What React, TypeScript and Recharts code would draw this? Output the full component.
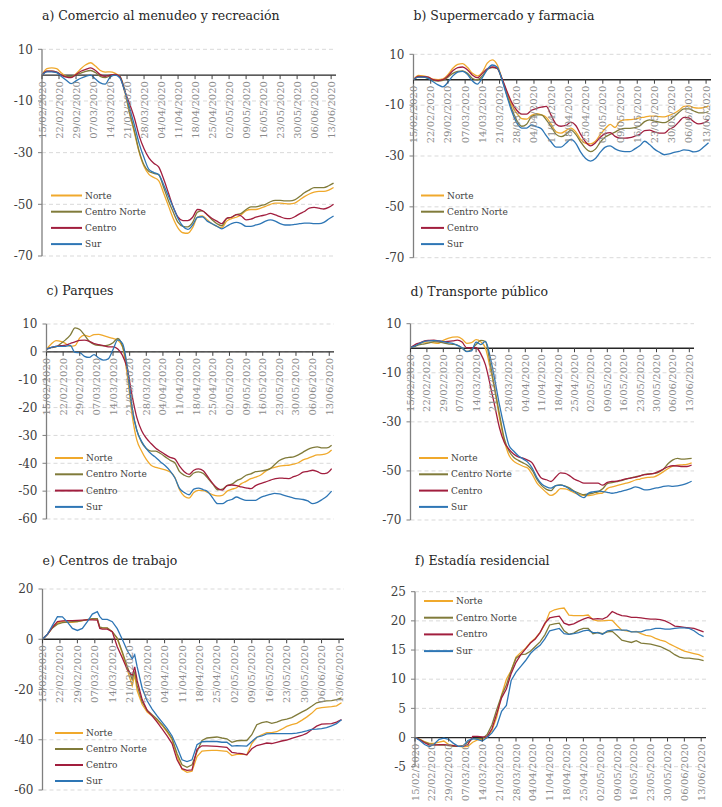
import React from 'react';
import { LineChart, Line, XAxis, YAxis, CartesianGrid, ReferenceLine } from 'recharts';

const FONT = '"DejaVu Serif", serif';

// one point every two days from 15/02/2020 (day 0)
const DAYS = Array.from({ length: 61 }, (_, i) => i * 2);
// panel e has two extra days where the series jump
const DAYS_E = [0, 2, 4, 6, 8, 10, 12, 14, 16, 18, 20, 22, 23, 24, 26, 28, 30, 32, 34, 36, 37, 38,
  40, 42, 44, 46, 48, 50, 52, 54, 56, 58, 60, 62, 64, 66, 68, 70, 72, 74, 76, 78,
  80, 82, 84, 86, 88, 90, 92, 94, 96, 98, 100, 102, 104, 106, 108, 110, 112, 114, 116, 118, 120];

const TICK_DAYS = [0, 7, 14, 21, 28, 35, 42, 49, 56, 63, 70, 77, 84, 91, 98, 105, 112, 119];
const TICK_LABELS = ['15/02/2020', '22/02/2020', '29/02/2020', '07/03/2020', '14/03/2020', '21/03/2020',
  '28/03/2020', '04/04/2020', '11/04/2020', '18/04/2020', '25/04/2020', '02/05/2020', '09/05/2020',
  '16/05/2020', '23/05/2020', '30/05/2020', '06/06/2020', '13/06/2020'];

// a) Comercio al menudeo y recreación
const A_NORTE = [0, 2.5, 2.8, 2.5, 0.8, -0.5, -0.8, 0.5, 2.5, 4,
  4.8, 3.5, 1.8, 1.2, 1.3, 0.8, -0.5, -6.2, -14.9, -22.2,
  -29.9, -35.4, -38.4, -39.6, -40.8, -45.5, -50.5, -55.5, -59.2, -61,
  -61.2, -59, -55, -54.5, -56, -57.5, -58.5, -59, -56.5, -55.5,
  -55, -54, -52.5, -52, -52, -51.5, -50.8, -50, -49.5, -49.5,
  -49.7, -49.8, -49.5, -48.3, -47, -46, -45.3, -45, -45, -44.5,
  -43.5];
const A_CN = [0, 1.5, 1.5, 1.2, 0, -0.5, -0.5, 0, 0.8, 1.5,
  1.8, 1, -0.5, -1, -0.3, 0, -0.5, -5.5, -14, -21.5,
  -29.5, -34.8, -37.3, -38, -38.5, -43.3, -48.5, -53, -57, -58.5,
  -58.7, -57, -53, -52.5, -54, -56, -57.5, -58.3, -55.5, -55,
  -54, -53.5, -52, -51, -51, -50.5, -50, -49, -48.5, -48.5,
  -48.7, -48.7, -48.3, -47, -45.5, -44.5, -43.5, -43.5, -43.5, -42.8,
  -41.8];
const A_CENTRO = [0, 1.5, 1.5, 1.2, 0, -0.8, -1, 0.2, 1.5, 2.2,
  2.8, 1.8, 0.2, -0.5, 0, 0.3, -0.5, -6, -11, -16.5,
  -23.5, -28.5, -32, -34.1, -35.5, -40, -45.5, -51, -55, -56.3,
  -56.3, -55, -52, -52.5, -54, -55.5, -56.5, -57.5, -55.4, -55,
  -54, -54.5, -56, -55.7, -55, -54.5, -54.1, -53.5, -54.1, -54.8,
  -55.4, -55.5, -54.8, -53.7, -52.8, -51.5, -51.2, -51.5, -51.8, -51.2,
  -50];
const A_SUR = [0, 1.3, 1.3, 1, -0.5, -2, -3.3, -2.2, -1.2, -0.5,
  0, -1.5, -3, -3.5, -0.8, 0, -1, -6, -12.5, -19.3,
  -26.5, -32, -36.5, -37.7, -38.5, -42.3, -46.8, -51.1, -55.5, -58.5,
  -59.7, -58, -55, -54.8, -56.5, -57.5, -58.5, -59.5, -58.5, -57.5,
  -57, -57.5, -58.5, -58.5, -58, -57.5, -56.5, -56, -56.5, -57.5,
  -58, -58, -57.8, -57.5, -57.3, -57.3, -57.5, -57.5, -57, -55.7,
  -54.5];

// b) Supermercado y farmacia
const B_NORTE = [0, 1.7, 1.5, 1, 0.2, 0, 0.3, 2, 4.5, 6,
  6.3, 4.8, 2.5, 1.5, 3, 6.5, 7.8, 6, 0.5, -5,
  -10, -13.2, -15.3, -15.5, -14, -13.3, -13.8, -14.8, -17.5, -20.5,
  -21, -20, -19, -20.5, -23.5, -25, -25.2, -24.2, -21.5, -19.2,
  -17.6, -18.8, -16.3, -15.8, -15.7, -15.5, -15, -14.7, -14.3, -14.3,
  -14.5, -14.6, -14, -13.2, -12, -10.5, -10.3, -11, -11.2, -11,
  -10.3];
const B_CN = [0, 1, 1, 0.5, -0.3, -0.5, -0.3, 1, 2.5, 3.3,
  3.5, 2.5, 0.5, 0, 1.5, 4, 4.8, 4.5, 0, -6,
  -11.5, -16, -18.3, -17.5, -14.5, -13.8, -13.8, -15.8, -18.5, -21.5,
  -22.4, -21.5, -19.8, -21.5, -24.5, -27, -28.3, -27.3, -24.5, -22.5,
  -21.5, -20.6, -19.5, -19.1, -19.1, -18.8, -18.2, -16.5, -15.8, -16.3,
  -16.7, -16.9, -16, -14.5, -12.8, -11.5, -11.5, -12.3, -13, -13,
  -12.5];
const B_CENTRO = [0, 1.3, 1.2, 1, 0, -0.3, 0, 1.5, 3.5, 4.8,
  5, 3.8, 1.8, 0.8, 2.5, 4.3, 5, 4.5, 0.5, -4.5,
  -9, -12, -13.5, -13.5, -12, -11.3, -10.8, -10.5, -14, -17.5,
  -18.3, -18, -16.7, -18, -21.5, -24.5, -26, -24.8, -22.6, -21.2,
  -20.8, -22.3, -23, -23, -22.8, -22.2, -21.5, -20, -19.8, -20.5,
  -21, -21, -19.5, -18.5, -16.5, -14.8, -15, -16.5, -17.4, -17,
  -15.8];
const B_SUR = [0, 1, 1, 0.5, -0.8, -2, -2.8, -1, 1.5, 3,
  3.3, 2, -0.5, -1.7, 0.8, 4, 5.8, 5, 0, -6.5,
  -12.5, -17, -19, -19, -17.8, -18.5, -19.3, -22, -24.5, -26.5,
  -26.5, -25, -23.5, -25, -28.5, -31, -32, -31, -28.5, -26.5,
  -26, -27.2, -28, -28.3, -28.3, -27.2, -26, -24.2, -25.5, -27.3,
  -28.5, -29.5, -29.2, -28.6, -28.2, -27.6, -27.8, -28.4, -28, -26.5,
  -24.8];

// c) Parques
const C_NORTE = [1, 2.8, 4, 3.8, 3, 2, 2.2, 5, 6, 5.5,
  6.2, 6.3, 5.8, 5.3, 4.8, 4.2, 1.8, -8.5, -22.5, -31.6,
  -35.6, -38.6, -40.7, -41.5, -41.9, -42.4, -43.1, -45, -49.5, -51.8,
  -52.5, -50.5, -49.7, -49.8, -50.5, -51.3, -51.7, -51.5, -50, -49.3,
  -48.8, -47.3, -46.5, -45.5, -45, -44.3, -43, -41.9, -41.5, -41,
  -40.8, -40.7, -40.3, -39.8, -38.8, -38.2, -37.5, -37, -36.9, -36.5,
  -35.2];
const C_CN = [1, 1.5, 1.8, 3, 4.3, 6, 8.6, 8, 6, 3.8,
  2.7, 2.3, 2.2, 2.4, 3.3, 4.8, 2, -5.8, -19.8, -28.1,
  -32.4, -34.7, -35.6, -35.6, -36.5, -37.7, -38.9, -39.8, -43, -44.3,
  -44.9, -43.5, -43.1, -43.7, -45.5, -47.5, -49.5, -49.3, -48, -47.5,
  -46.3, -45.5, -44.3, -43.8, -43, -42.8, -42.5, -42, -40.5, -39,
  -38.2, -37.9, -37.7, -37, -36, -35, -34.4, -34.1, -34.5, -34.5,
  -33.5];
const C_CENTRO = [1, 1.6, 2, 2.2, 2.4, 3, 3.6, 4.1, 4.2, 3.8,
  3, 2.6, 2.2, 1.8, 1.8, 1, -1.3, -6, -15.6, -23.5,
  -28.2, -31, -32.9, -34.6, -35.8, -36.9, -37.9, -38.4, -41, -43,
  -44, -42.5, -42, -42.7, -45, -47.3, -49, -49.6, -48, -47.8,
  -48, -48.5, -48.8, -49.1, -48, -47.3, -46.8, -46.1, -45.6, -45.3,
  -45.4, -45.5, -44.8, -44.2, -43.2, -42.9, -42.5, -43, -43.7, -43.5,
  -41.9];
const C_SUR = [1, 1.6, 2, 2, 2, 2.3, -0.2, -0.3, -1.6, -2,
  -1, -2.2, -3, -2.5, 0.8, 4.3, 3, -5.4, -20.1, -28.2,
  -32.1, -34.7, -36.6, -37.9, -39.5, -40.9, -42.7, -45.2, -49, -50.5,
  -51.3, -49.3, -48.9, -49.5, -50.3, -52.5, -54.5, -54.5, -53.5, -53,
  -52.1, -52.8, -53.3, -53.3, -53.3, -52.3, -51.7, -51.2, -50.8, -51,
  -51.5, -52, -52.5, -52.8, -53, -53.5, -54.5, -54, -53, -51.8,
  -50];

// d) Transporte público
const D_NORTE = [0.3, 1, 2, 2.5, 2.5, 2.2, 2, 3.2, 4, 4.5,
  4.6, 3.8, 2, 2.3, 3.5, 2.6, 0, -8, -17.3, -28.5,
  -37.5, -43.5, -46, -47.2, -48.1, -48.8, -51.5, -55, -57, -58.8,
  -60, -59, -57.2, -57.3, -58, -59, -59.7, -60, -60.1, -59.8,
  -59.2, -59, -57.2, -56.5, -56, -55.5, -55, -54.5, -53.7, -53.3,
  -52.8, -52.6, -52.4, -51.5, -50.3, -49, -48, -47.6, -47.5, -47.3,
  -46.7];
const D_CN = [0.3, 0.8, 1.5, 1.8, 2.2, 2.7, 2.5, 2.2, 1.8, 1.6,
  1.3, 0, -1.3, -0.5, 1.5, 3.2, 2.7, -6.1, -16.8, -27,
  -36.7, -41.8, -44.4, -45.7, -46.7, -47.8, -49.8, -53.5, -56, -57.5,
  -58, -56, -55.7, -56.2, -57, -58.3, -59.1, -59.7, -59.4, -59,
  -58.5, -57.3, -55.2, -54.8, -54.4, -54, -53.3, -52.8, -52.4, -52,
  -51.4, -51.2, -51, -50.5, -49.2, -47, -45.5, -44.9, -45.2, -45.1,
  -44.9];
const D_CENTRO = [0.3, 1.5, 2.2, 3, 3.2, 3.3, 3, 2.7, 2.8, 3,
  3.3, 2.5, 0.2, 0.2, 0.2, -2.3, -6.8, -14.9, -23.7, -32.5,
  -38.3, -41.1, -43.1, -44.3, -44.8, -45.6, -46.8, -50.3, -53, -53.6,
  -54.3, -52.5, -50.8, -51, -52, -53.4, -54.2, -55, -55, -55,
  -55, -55.8, -54.7, -54.3, -54.2, -53.7, -53.2, -52.9, -52.5, -52,
  -51.5, -51.3, -51, -50.2, -49.2, -48.3, -47.9, -48, -48.2, -48.2,
  -47.6];
const D_SUR = [0.3, 1, 2, 2.8, 3, 3.1, 3, 2.7, 2.3, 2,
  1.2, 0.2, -1.4, -1.1, 2.5, 1.5, 2.8, -3.5, -12.9, -23.2,
  -32, -39.5, -41.9, -43.8, -45.1, -46.4, -48.9, -52.8, -55.3, -56.5,
  -57, -56, -55.8, -56.3, -57.5, -58.5, -60, -60.9, -59, -58.5,
  -58.2, -58.4, -58.7, -59.1, -58.8, -58.3, -57.8, -57.2, -56.5, -57,
  -57.7, -57.6, -57.1, -56.8, -56.3, -56.1, -56.3, -56.1, -55.7, -55.1,
  -54.2];

// e) Centros de trabajo (on DAYS_E)
const E_NORTE = [0, 2, 4.6, 6.5, 7, 6.7, 6.7, 7, 7.4, 7.8, 8.1, 8, 4.6, 4.4, 4.4, 3, 0.2, -5.5, -12, -18.5, -14.2, -20.5,
  -26, -29, -30.5, -32.3, -34.3, -37, -40, -46.5, -51.8, -53,
  -52.5, -46.7, -44.5, -44.3, -44.2, -44.2, -44.4, -44.6, -46.3, -45.8,
  -45.7, -46, -41.5, -39, -38, -37.2, -37.2, -36.8, -35.8, -34.7,
  -34, -33.5, -32.3, -31, -29.5, -27.6, -27.2, -27, -26.8, -26.5,
  -25.3];
const E_CN = [0, 2, 4.5, 6, 6.6, 6.8, 7, 7, 7.4, 7.8, 8.2, 8.2, 4.8, 4.6, 4.5, 3, 0.5, -5, -10.8, -16, -12.8, -18.5,
  -25, -28.3, -30, -31.8, -34, -36.5, -39.5, -45.5, -50, -51,
  -50, -44.8, -40.3, -39.3, -39.1, -38.9, -39.3, -39.6, -41, -40.4,
  -40.3, -40.3, -38, -34, -33.2, -32.8, -33.5, -33, -32.2, -31.8,
  -31.2, -30.1, -29, -28, -26.7, -25.3, -24.8, -24.5, -24.4, -24,
  -23.3];
const E_CENTRO = [0, 2, 4.8, 7, 7.3, 7.4, 7.4, 7.5, 7.6, 7.7, 7.7, 7.6, 4.3, 4, 4, 3, -3, -7.4, -12, -14.5, -11, -16.5,
  -24, -28.3, -30.5, -33, -35.7, -38.5, -41.5, -48, -51.5, -52.2,
  -52, -43.8, -42.4, -42.4, -42.5, -42.6, -42.8, -43, -45, -45.3,
  -45.5, -46, -43.6, -42.3, -41.8, -41.3, -41.5, -41, -40.5, -40.1,
  -39.5, -38.9, -38.3, -37.5, -36, -34.6, -33.8, -33.7, -33.6, -33,
  -32];
const E_SUR = [0, 2, 5.5, 9, 8.9, 6.8, 4.3, 3.5, 4.3, 7, 10, 11, 9, 7.9, 7.9, 7, 4.2, 0, -4.5, -7.8, -6.2, -11,
  -19.5, -24.5, -27.8, -30.5, -33, -35.5, -38.5, -43, -48, -48.7,
  -48, -42, -40.8, -40.7, -40.7, -40.7, -41, -41, -42.5, -42.3,
  -42.4, -42.5, -40.7, -39, -38.5, -37.7, -37.6, -37.6, -37.6, -37.6,
  -37.6, -37.4, -37, -36.5, -35.9, -35.8, -35.6, -35.2, -34.5, -33.6,
  -32];

// f) Estadía residencial
const F_NORTE = [0, -0.3, -0.7, -1, -1, -0.8, -0.6, -1.2, -1.4, -1.5,
  -1.6, -1.5, -0.8, -0.4, -0.3, 0, 1.2, 3.5, 7.3, 10,
  11.5, 13.8, 14.6, 15.3, 16.3, 17, 18, 19.4, 21.5, 21.9,
  22.1, 22.2, 21, 20.9, 20.9, 20.9, 21, 20.2, 20, 20,
  20.1, 20.1, 19.2, 18.4, 18.3, 18.1, 18.2, 17.8, 17.5, 17.4,
  17, 16.7, 16.5, 16, 15.6, 15.2, 14.8, 14.6, 14.4, 14.2,
  13.8];
const F_CN = [0, -0.3, -0.8, -1.1, -1.2, -1.3, -1.3, -1.4, -1.5, -1.5,
  -1.4, -0.8, -0.2, -0.2, -0.2, 0.5, 2.2, 4.8, 7.2, 9,
  11.5, 13.6, 14.2, 14.3, 14.8, 15.6, 16.4, 17.6, 19.3, 19.5,
  19.6, 18.3, 17.7, 17.9, 18.4, 18.7, 18.7, 17.8, 18, 17.8,
  18.1, 18.2, 17.5, 16.7, 16.5, 16.3, 16.6, 16.2, 16.1, 16,
  15.8, 15.6, 15.2, 14.8, 14.2, 13.8, 13.6, 13.6, 13.5, 13.4,
  13.2];
const F_CENTRO = [0, -0.4, -0.9, -1.3, -1.3, -1.2, -1.2, -1.3, -1.4, -1.5,
  -1.5, -1.2, 0.2, 0.2, 0.1, 0.1, 1.5, 4.1, 6.8, 8.3,
  11, 12.9, 14.2, 15.2, 16.2, 16.9, 18, 19.6, 20.5, 20.7,
  20.8, 19.6, 19.3, 19.5, 19.9, 20.3, 20.6, 20.3, 20.4, 20.3,
  20.7, 21.6, 21.2, 20.9, 20.8, 20.6, 20.6, 20.5, 20.4, 20.3,
  20.3, 20.2, 20, 19.6, 19.1, 19, 18.9, 18.8, 18.7, 18.4,
  18.1];
const F_SUR = [0, -0.5, -1.2, -1.6, -1.1, -0.3, -0.1, -0.3, -1, -1.5,
  -1.5, -0.5, -0.2, -0.3, -0.6, 0, 0.8, 2, 4.5, 5.5,
  9.8, 11.2, 12.2, 13.2, 14.4, 15.2, 15.8, 16.9, 18.3, 18.5,
  18.7, 17.8, 17.7, 17.8, 18, 18.3, 18.4, 18, 18, 17.7,
  18.3, 18.4, 18.5, 18.4, 18.4, 18.1, 18.1, 18.1, 18.4, 18.5,
  18.7, 18.7, 18.6, 18.6, 18.7, 18.8, 18.8, 18.7, 18.3, 17.7,
  17.3];

const SERIES = [
  { key: 'norte', name: 'Norte', color: '#F0A92C' },
  { key: 'centroNorte', name: 'Centro Norte', color: '#807B3A' },
  { key: 'centro', name: 'Centro', color: '#A11E3E' },
  { key: 'sur', name: 'Sur', color: '#2E76B5' },
];

const rows = (days: number[], n: number[], cn: number[], c: number[], s: number[]) =>
  days.map((day, i) => ({ day, norte: n[i], centroNorte: cn[i], centro: c[i], sur: s[i] }));

const PANELS = [
  {
    title: 'a) Comercio al menudeo y recreación', x: 0, y: 0, h: 270, titleY: 19.5,
    plot: { left: 42, right: 336, top: 49.3, bottom: 256 }, yDomain: [-70, 10], yTicks: [-70, -50, -30, -10, 10],
    data: rows(DAYS, A_NORTE, A_CN, A_CENTRO, A_SUR), curve: 'monotone',
    legend: { x1: 51, x2: 82, tx: 85, y0: 195.5, dy: 16.2 },
  },
  {
    title: 'b) Supermercado y farmacia', x: 361, y: 0, h: 270, titleY: 20,
    plot: { left: 52.5, right: 350, top: 54.3, bottom: 257.7 }, yDomain: [-70, 10], yTicks: [-70, -50, -30, -10, 10],
    data: rows(DAYS, B_NORTE, B_CN, B_CENTRO, B_SUR), curve: 'monotone',
    legend: { x1: 60, x2: 83, tx: 86, y0: 195.5, dy: 16.2 },
  },
  {
    title: 'c) Parques', x: 0, y: 270, h: 270, titleY: 25,
    plot: { left: 46.5, right: 334, top: 54, bottom: 249 }, yDomain: [-60, 10], yTicks: [-60, -50, -40, -30, -20, -10, 0, 10],
    data: rows(DAYS, C_NORTE, C_CN, C_CENTRO, C_SUR), curve: 'monotone',
    legend: { x1: 55, x2: 83, tx: 86, y0: 188, dy: 16.3 },
  },
  {
    title: 'd) Transporte público', x: 361, y: 270, h: 270, titleY: 25.7,
    plot: { left: 49.5, right: 333, top: 53.7, bottom: 250 }, yDomain: [-70, 10], yTicks: [-70, -50, -30, -10, 10],
    data: rows(DAYS, D_NORTE, D_CN, D_CENTRO, D_SUR), curve: 'monotone',
    legend: { x1: 58, x2: 87, tx: 90, y0: 188, dy: 16.3 },
  },
  {
    title: 'e) Centros de trabajo', x: 0, y: 540, h: 267, titleY: 25,
    plot: { left: 42.5, right: 344, top: 49, bottom: 250 }, yDomain: [-60, 20], yTicks: [-60, -40, -20, 0, 20],
    data: rows(DAYS_E, E_NORTE, E_CN, E_CENTRO, E_SUR), curve: 'linear',
    legend: { x1: 55, x2: 83, tx: 86, y0: 193, dy: 16 },
  },
  {
    title: 'f) Estadía residencial', x: 361, y: 540, h: 267, titleY: 25,
    plot: { left: 54, right: 345, top: 51.7, bottom: 226.7 }, yDomain: [-5, 25], yTicks: [-5, 0, 5, 10, 15, 20, 25],
    data: rows(DAYS, F_NORTE, F_CN, F_CENTRO, F_SUR), curve: 'linear',
    legend: { x1: 63, x2: 92, tx: 95, y0: 61, dy: 16.7 },
  },
];

const BOX_W = 361;
const X_AXIS_H = 2;

const DateTick = (props: any) => {
  const { x, payload, zeroY } = props;
  const label = TICK_LABELS[TICK_DAYS.indexOf(payload.value)] ?? '';
  return (
    <g>
      <line x1={x} x2={x} y1={zeroY} y2={zeroY + 4} stroke="#404040" strokeWidth={1} />
      <text
        transform={`translate(${x + 3.5},${zeroY + 6}) rotate(-90)`}
        textAnchor="end"
        fontSize={10}
        fontFamily={FONT}
        fill="#8a8a8a"
      >
        {label}
      </text>
    </g>
  );
};

const Panel = ({ p }: { p: (typeof PANELS)[number] }) => {
  const [yMin, yMax] = p.yDomain;
  const zeroY = p.plot.top + ((yMax - 0) / (yMax - yMin)) * (p.plot.bottom - p.plot.top);
  return (
    <div style={{ position: 'absolute', left: p.x, top: p.y, width: BOX_W, height: p.h }}>
      <LineChart
        width={BOX_W}
        height={p.h}
        data={p.data}
        style={{ overflow: 'visible' }}
        margin={{ top: p.plot.top, right: BOX_W - p.plot.right, bottom: p.h - p.plot.bottom - X_AXIS_H, left: 0 }}
      >
        <CartesianGrid vertical={false} stroke="#d9d9d9" strokeDasharray="4 3" />
        <XAxis
          type="number"
          dataKey="day"
          domain={[0, 121]}
          ticks={TICK_DAYS}
          interval={0}
          height={X_AXIS_H}
          axisLine={false}
          tickLine={false}
          tick={<DateTick zeroY={zeroY} />}
        />
        <YAxis
          type="number"
          domain={p.yDomain}
          ticks={p.yTicks}
          interval={0}
          width={p.plot.left}
          axisLine={{ stroke: '#7f7f7f', strokeWidth: 1.3 }}
          tickLine={{ stroke: '#7f7f7f' }}
          tickSize={4}
          tickMargin={5}
          tick={{ fill: '#404040', fontSize: 12, fontFamily: FONT }}
        />
        <ReferenceLine y={0} stroke="#262626" strokeWidth={1.3} />
        {SERIES.map((s) => (
          <Line
            key={s.key}
            type={p.curve as any}
            dataKey={s.key}
            name={s.name}
            stroke={s.color}
            strokeWidth={1.3}
            dot={false}
            isAnimationActive={false}
          />
        ))}
      </LineChart>
      <svg width={BOX_W} height={p.h} style={{ position: 'absolute', left: 0, top: 0, pointerEvents: 'none' }}>
        <text x={p.plot.left} y={p.titleY} fontSize={12.5} fontFamily={FONT} fill="#262626">
          {p.title}
        </text>
        {SERIES.map((s, i) => {
          const yy = p.legend.y0 + i * p.legend.dy;
          return (
            <g key={s.key}>
              <line x1={p.legend.x1} x2={p.legend.x2} y1={yy} y2={yy} stroke={s.color} strokeWidth={2} />
              <text x={p.legend.tx} y={yy} dominantBaseline="central" fontSize={9} fontFamily={FONT} fill="#404040">
                {s.name}
              </text>
            </g>
          );
        })}
      </svg>
    </div>
  );
};

export default function App() {
  return (
    <div style={{ position: 'absolute', left: 0, top: 0, width: 722, height: 807, background: '#fff', fontFamily: FONT }}>
      {PANELS.map((p) => (
        <Panel key={p.title} p={p} />
      ))}
    </div>
  );
}
